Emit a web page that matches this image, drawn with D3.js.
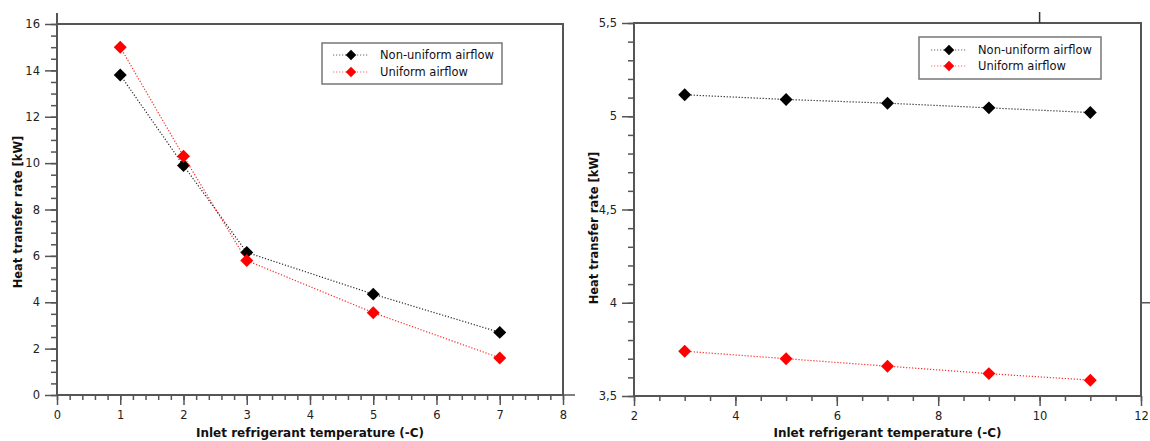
<!DOCTYPE html>
<html>
<head>
<meta charset="utf-8">
<script src="https://cdn.jsdelivr.net/npm/d3@7"></script>
<style>
  html, body { margin: 0; padding: 0; background: #fff; }
  svg { display: block; }
  text { font-family: "DejaVu Sans", Verdana, sans-serif; }
</style>
</head>
<body>
<svg id="chart" width="1150" height="441"></svg>
<script>
// Panel A: low inlet temperatures
const tempsA = [1, 2, 3, 5, 7];
const nonUniformA = [13.8, 9.9, 6.15, 4.35, 2.7];
const uniformA = [15.0, 10.3, 5.8, 3.55, 1.6];
const xTicksA = [0, 1, 2, 3, 4, 5, 6, 7, 8];
const yTicksA = [0, 2, 4, 6, 8, 10, 12, 14, 16];

// Panel B: higher inlet temperatures
const tempsB = [3, 5, 7, 9, 11];
const nonUniformB = [5.115, 5.09, 5.07, 5.045, 5.02];
const uniformB = [3.74, 3.70, 3.66, 3.62, 3.585];
const xTicksB = [2, 4, 6, 8, 10, 12];
const yTicksB = [3.5, 4, 4.5, 5, 5.5];

const seriesNames = ["Non-uniform airflow", "Uniform airflow"];
const seriesColors = ["#000000", "#ff0000"];
const xTitle = "Inlet refrigerant temperature (-C)";
const yTitle = "Heat transfer rate [kW]";

const svg = d3.select("#chart");
const axisColor = "#555";
const commaFmt = d => String(d).replace(".", ",");

// square rotated 45° gives an even diamond marker
const diamondPath = size => d3.symbol().type(d3.symbolSquare).size(size)();

function panel(cfg) {
  const x = d3.scaleLinear().domain(cfg.xDomain).range([cfg.left, cfg.right]);
  const y = d3.scaleLinear().domain(cfg.yDomain).range([cfg.bottom, cfg.top]);
  const g = svg.append("g");

  // minor ticks
  g.append("g").attr("transform", `translate(0,${cfg.bottom})`)
    .call(d3.axisBottom(x).tickValues(cfg.xMinor).tickSize(5).tickSizeOuter(0).tickFormat(""))
    .call(a => a.select(".domain").remove());
  g.append("g").attr("transform", `translate(${cfg.left},0)`)
    .call(d3.axisLeft(y).tickValues(cfg.yMinor).tickSize(6).tickSizeOuter(0).tickFormat(""))
    .call(a => a.select(".domain").remove());

  // major ticks with labels
  const xa = g.append("g").attr("transform", `translate(0,${cfg.bottom})`)
    .call(d3.axisBottom(x).tickValues(cfg.xTicks).tickSize(10).tickSizeOuter(0).tickPadding(6));
  const ya = g.append("g").attr("transform", `translate(${cfg.left},0)`)
    .call(d3.axisLeft(y).tickValues(cfg.yTicks).tickSize(12).tickSizeOuter(0).tickPadding(5)
      .tickFormat(cfg.yFormat));
  [xa, ya].forEach(a => {
    a.select(".domain").remove();
    a.selectAll("text").attr("font-size", 11.5).attr("fill", "#222")
      .attr("font-family", "DejaVu Sans, Verdana, sans-serif");
  });
  g.selectAll(".tick line").attr("stroke", axisColor).attr("stroke-width", 1.5);

  // frame
  g.append("rect")
    .attr("x", cfg.left).attr("y", cfg.top)
    .attr("width", cfg.right - cfg.left).attr("height", cfg.bottom - cfg.top)
    .attr("fill", "none").attr("stroke", axisColor).attr("stroke-width", 2);

  // axis titles
  g.append("text")
    .attr("x", (cfg.left + cfg.right) / 2 + cfg.xTitleShift).attr("y", 437)
    .attr("text-anchor", "middle").attr("font-weight", "bold").attr("font-size", 12)
    .attr("fill", "#111").text(xTitle);
  g.append("text")
    .attr("transform", `translate(${cfg.yTitleX},${cfg.yTitleY}) rotate(-90)`)
    .attr("text-anchor", "middle").attr("dy", "0.35em")
    .attr("font-weight", "bold").attr("font-size", 11.5)
    .attr("fill", "#111").text(yTitle);

  // series
  const line = d3.line().x(d => x(d[0])).y(d => y(d[1]));
  cfg.series.forEach((vals, i) => {
    const pts = cfg.temps.map((t, j) => [t, vals[j]]);
    g.append("path").datum(pts).attr("d", line)
      .attr("fill", "none").attr("stroke", seriesColors[i])
      .attr("stroke-width", 1.2).attr("stroke-dasharray", "1.2,1.8")
      .attr("opacity", 0.85);
    g.selectAll(null).data(pts).enter().append("path")
      .attr("d", diamondPath(84))
      .attr("transform", d => `translate(${x(d[0])},${y(d[1])}) rotate(45)`)
      .attr("fill", seriesColors[i]);
  });

  // legend
  const L = cfg.legend;
  g.append("rect").attr("x", L.x).attr("y", L.y).attr("width", L.w).attr("height", L.h)
    .attr("fill", "#fff").attr("stroke", "#777").attr("stroke-width", 1.5);
  seriesNames.forEach((name, i) => {
    const ry = L.y + L.row0 + i * L.rowGap;
    g.append("line").attr("x1", L.mx - 18).attr("x2", L.mx + 17)
      .attr("y1", ry).attr("y2", ry)
      .attr("stroke", seriesColors[i]).attr("stroke-width", 1.2)
      .attr("stroke-dasharray", "1.2,1.8").attr("opacity", 0.6);
    g.append("path").attr("d", diamondPath(56))
      .attr("transform", `translate(${L.mx},${ry}) rotate(45)`)
      .attr("fill", seriesColors[i]);
    g.append("text").attr("x", L.tx).attr("y", ry).attr("dy", "0.35em")
      .attr("font-size", 11.5).attr("fill", "#111").text(name);
  });
  return { x, y, g };
}

const minorRange = (a, b, s) => d3.range(Math.round((b - a) / s) + 1).map(k => +(a + k * s).toFixed(4));

const A = panel({
  left: 57, right: 563, top: 24, bottom: 395,
  xDomain: [0, 8], yDomain: [0, 16],
  xTicks: xTicksA, yTicks: yTicksA,
  xMinor: minorRange(0, 8, 0.2), yMinor: minorRange(0, 16, 0.5),
  yFormat: d => d,
  temps: tempsA, series: [nonUniformA, uniformA],
  yTitleX: 18, yTitleY: 212, xTitleShift: 0,
  legend: { x: 322, y: 43, w: 180, h: 41, row0: 12, rowGap: 17, mx: 351, tx: 380 }
});
// y axis line runs slightly past the frame top
A.g.append("line").attr("x1", 57).attr("x2", 57).attr("y1", 13).attr("y2", 24)
  .attr("stroke", axisColor).attr("stroke-width", 2);
A.g.append("line").attr("x1", 563).attr("x2", 575).attr("y1", 395).attr("y2", 395)
  .attr("stroke", axisColor).attr("stroke-width", 1.5);

const B = panel({
  left: 634, right: 1141, top: 23, bottom: 396,
  xDomain: [2, 12], yDomain: [3.5, 5.5],
  xTicks: xTicksB, yTicks: yTicksB,
  xMinor: minorRange(2, 12, 0.5), yMinor: minorRange(3.5, 5.5, 0.1),
  yFormat: commaFmt,
  temps: tempsB, series: [nonUniformB, uniformB],
  yTitleX: 594, yTitleY: 228, xTitleShift: 0,
  legend: { x: 919, y: 37, w: 182, h: 42, row0: 13, rowGap: 16, mx: 949, tx: 978 }
});
// stray outer ticks on the top and right edges
B.g.append("line").attr("x1", B.x(10)).attr("x2", B.x(10)).attr("y1", 12).attr("y2", 23)
  .attr("stroke", "#333").attr("stroke-width", 1.5);
B.g.append("line").attr("x1", 1141).attr("x2", 1150).attr("y1", B.y(4)).attr("y2", B.y(4))
  .attr("stroke", axisColor).attr("stroke-width", 1.5);
</script>
</body>
</html>
